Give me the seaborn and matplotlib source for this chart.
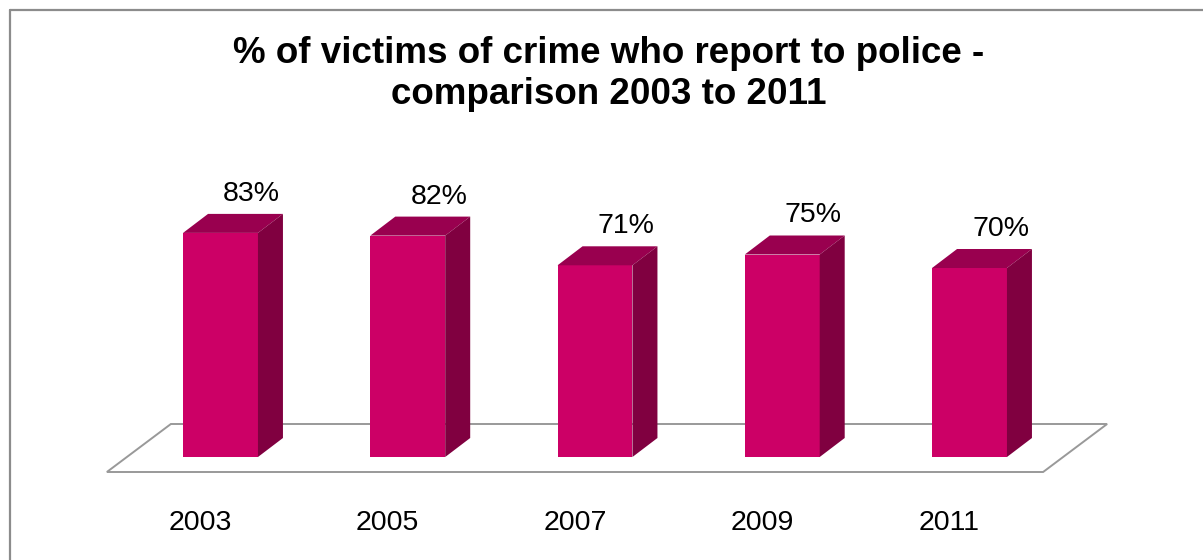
import matplotlib
matplotlib.use("Agg")
import matplotlib.pyplot as plt
from matplotlib.patches import Polygon
from matplotlib.lines import Line2D
from matplotlib.transforms import ScaledTranslation
import seaborn as sns
import pandas as pd

# Survey results: share of crime victims who reported to the police
years = ["2003", "2005", "2007", "2009", "2011"]
reported_pct = [83, 82, 71, 75, 70]

TITLE = "% of victims of crime who report to police -\ncomparison 2003 to 2011"

FRONT = "#CC0066"
TOP = "#99004F"
SIDE = "#800040"
FLOOR_EDGE = "#999999"
FRAME = "#8C8C8C"

sns.set_theme(style="white")
plt.rcParams["font.family"] = ["Liberation Sans", "DejaVu Sans"]
plt.rcParams["text.color"] = "black"
plt.rcParams["xtick.color"] = "black"
plt.rcParams["xtick.labelcolor"] = "black"

W, H, DPI = 1203, 560, 100
fig = plt.figure(figsize=(W / DPI, H / DPI), dpi=DPI)

# Axes placed in pixels: baseline at y=457, category slots 187.25 px wide
slot_px = 187.25
pct_px = 2.70
base_y = 457
left_px = 220.5 - slot_px / 2
ax_w = slot_px * len(years)
ax = fig.add_axes([left_px / W, (H - base_y) / H, ax_w / W, base_y / H])

df = pd.DataFrame({"year": years, "pct": reported_pct})
sns.barplot(data=df, x="year", y="pct", color=FRONT, saturation=1,
            width=0.4, linewidth=0, ax=ax, zorder=3)
ax.set_xlim(-0.5, len(years) - 0.5)
ax.set_ylim(0, base_y / pct_px)

# conversions from pixels to data units
px_x = 1.0 / slot_px
px_y = 1.0 / pct_px

# depth of each bar and of the floor plate
bdx, bdy = 25 * px_x, 19 * px_y
f_front_dx, f_front_dy = -20 * px_x, -15 * px_y
f_back_dx, f_back_dy = 44 * px_x, 33 * px_y

x0, x1 = ax.get_xlim()
floor = Polygon([(x0 + f_front_dx, f_front_dy), (x1 + f_front_dx, f_front_dy),
                 (x1 + f_back_dx, f_back_dy), (x0 + f_back_dx, f_back_dy)],
                closed=True, facecolor="white", edgecolor=FLOOR_EDGE,
                linewidth=1.4, zorder=1, clip_on=False)
ax.add_patch(floor)

for bar, val in zip(ax.patches[:len(years)], reported_pct):
    bx = bar.get_x()
    bw = bar.get_width()
    h = bar.get_height()
    top = Polygon([(bx, h), (bx + bw, h), (bx + bw + bdx, h + bdy), (bx + bdx, h + bdy)],
                  closed=True, facecolor=TOP, edgecolor="none", zorder=3, clip_on=False)
    side = Polygon([(bx + bw, 0), (bx + bw + bdx, bdy), (bx + bw + bdx, h + bdy), (bx + bw, h)],
                   closed=True, facecolor=SIDE, edgecolor="none", zorder=3, clip_on=False)
    ax.add_patch(top)
    ax.add_patch(side)
    ax.annotate(f"{val}%", xy=(bx + bw / 2, h), xytext=(31 * 0.72, 39 * 0.72),
                textcoords="offset points", ha="center", va="center",
                fontsize=20.5, color="black", annotation_clip=False)

# axis decoration: only the year labels under the floor
sns.despine(ax=ax, left=True, bottom=True)
ax.set_yticks([])
ax.set_xlabel("")
ax.set_ylabel("")
ax.tick_params(axis="x", length=0, pad=38, labelsize=20.5, labelcolor="black")
shift = ScaledTranslation(-20 / DPI, 0, fig.dpi_scale_trans)
for lab in ax.get_xticklabels():
    lab.set_transform(lab.get_transform() + shift)
ax.patch.set_alpha(0)

fig.text(609 / W, 1 - 74 / H, TITLE, ha="center", va="center", color="black",
         fontsize=26.5, fontweight="bold", linespacing=1.25)

# chart frame (top and left edges)
fx = 9.5 / W
fy = 1 - 9.5 / H
fig.add_artist(Line2D([fx, fx], [0, fy], transform=fig.transFigure, color=FRAME, lw=1.6))
fig.add_artist(Line2D([fx, 1], [fy, fy], transform=fig.transFigure, color=FRAME, lw=1.6))

fig.savefig("out.png", dpi=DPI, facecolor="white")
